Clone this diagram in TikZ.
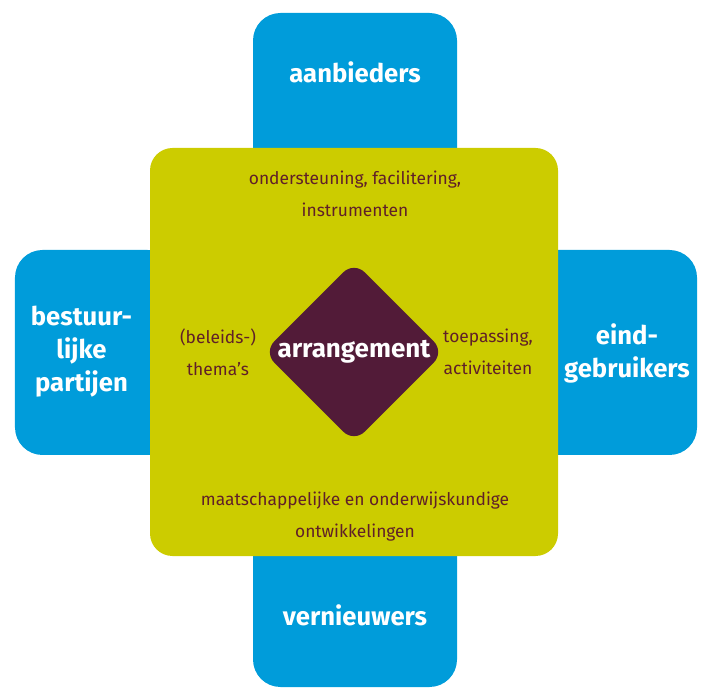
\documentclass[tikz,border=0pt]{standalone}
\usepackage{fontspec}
\setmainfont{Fira Sans}
\usetikzlibrary{shapes.geometric,backgrounds}

\definecolor{ablue}{RGB}{0,156,218}
\definecolor{agreen}{RGB}{204,204,0}
\definecolor{aplum}{RGB}{82,27,56}
\definecolor{atext}{RGB}{96,32,40}

\begin{document}
\begin{tikzpicture}[
    blk/.style={rectangle, fill=ablue, rounded corners=0.55cm, inner sep=0pt},
    core/.style={rectangle, fill=agreen, rounded corners=0.45cm, inner sep=0pt,
                 minimum width=8.16cm, minimum height=8.16cm},
    dia/.style={diamond, aspect=1, fill=aplum, rounded corners=0.3cm, inner sep=0pt,
                minimum size=3.62cm, text=white, font=\fontsize{14.8}{16}\selectfont\bfseries},
    who/.style={text=white, align=center, font=\fontsize{14.6}{18.8}\selectfont\bfseries},
    lbl/.style={text=atext, align=center, font=\fontsize{9.9}{18.2}\selectfont},
  ]
  \useasboundingbox (0,0) rectangle (14.08,13.76);

  %% ===== BLUE ARMS =====
  \node[blk, minimum width=4.08cm, minimum height=3.5cm] (top)   at (7.1, 11.75) {};
  \node[blk, minimum width=4.08cm, minimum height=3.5cm] (bot)   at (7.1, 1.77)  {};
  \node[blk, minimum width=3.2cm,  minimum height=4.1cm] (left)  at (1.9, 6.71)  {};
  \node[blk, minimum width=3.34cm, minimum height=4.1cm] (right) at (12.27, 6.71) {};

  %% ===== GREEN CORE + DIAMOND =====
  \node[core] (core) at (7.08, 6.72) {};
  \node[dia]  (arr)  at (7.08, 6.72) {arrangement};

  %% ===== ARM LABELS =====
  \node[who] (aanb) at (7.1, 12.32) {aanbieders};
  \node[who] (best) at (1.63, 6.72) {bestuur-\\lijke\\partijen};
  \node[who] (eind) at (12.54, 6.7) {eind-\\gebruikers};
  \node[who] (vern) at (7.1, 1.46)  {vernieuwers};

  %% ===== CORE LABELS =====
  \node[lbl] (onder) at (7.1, 9.88)  {ondersteuning, facilitering,\\instrumenten};
  \node[lbl] (thema) at (4.36, 6.72) {(beleids-)\\thema's};
  \node[lbl] (toep)  at (9.76, 6.72) {toepassing,\\activiteiten};
  \node[lbl] (ontw)  at (7.1, 3.42)  {maatschappelijke en onderwijskundige\\ontwikkelingen};
\end{tikzpicture}
\end{document}
